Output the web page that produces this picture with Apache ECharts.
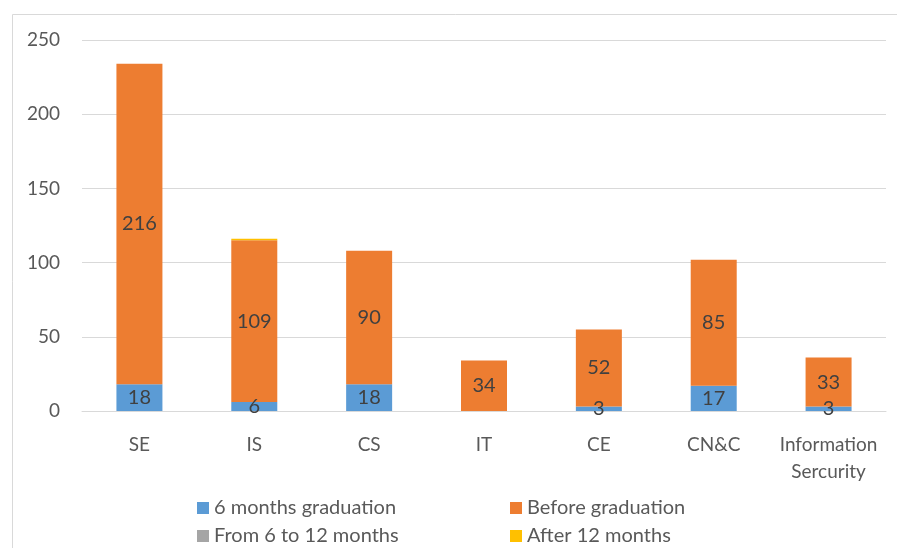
<!DOCTYPE html>
<html>
<head>
<meta charset="utf-8">
<script src="https://cdn.jsdelivr.net/npm/echarts@6/dist/echarts.min.js"></script>
<style>html,body{margin:0;padding:0;background:#fff}#main{width:897px;height:548px}</style>
</head>
<body>
<div id="main"></div>
<script>
var categories = ['SE', 'IS', 'CS', 'IT', 'CE', 'CN&C', 'Information\nSercurity'];
var sixMonths = [18, 6, 18, 0, 3, 17, 3];
var beforeGrad = [216, 109, 90, 34, 52, 85, 33];
var sixToTwelve = [0, 0, 0, 0, 0, 0, 0];
var afterTwelve = [0, 1, 0, 0, 0, 0, 0];

var font = 'Lato';
var chart = echarts.init(document.getElementById('main'));

function labelled(name, data, color, showLabel) {
  return {
    name: name, type: 'bar', stack: 'total', data: data, barWidth: 46,
    itemStyle: { color: color },
    label: {
      show: showLabel, position: 'inside', color: '#404040', fontFamily: font, fontSize: 20,
      formatter: function (p) { return p.value ? p.value : ''; }
    }
  };
}

function legendItem(name, left, top) {
  return {
    left: left, top: top, itemWidth: 12, itemHeight: 12, icon: 'rect',
    textStyle: { color: '#595959', fontSize: 20, fontFamily: font },
    data: [name]
  };
}

chart.setOption({
  animation: false,
  textStyle: { fontFamily: font },
  graphic: [{
    type: 'rect', left: 10, top: 12, shape: { width: 900, height: 600 },
    style: { fill: 'none', stroke: '#d9d9d9', lineWidth: 1 }
  }],
  grid: { left: 82, right: 11, top: 40, bottom: 137 },
  xAxis: {
    type: 'category', data: categories,
    axisTick: { show: false },
    axisLine: { lineStyle: { color: '#d9d9d9', width: 1 } },
    axisLabel: { color: '#595959', fontSize: 19, margin: 20, lineHeight: 27, fontFamily: font, interval: 0 }
  },
  yAxis: {
    type: 'value', min: 0, max: 250, interval: 50,
    axisLine: { show: false }, axisTick: { show: false },
    splitLine: { lineStyle: { color: '#d9d9d9', width: 1 } },
    axisLabel: { color: '#595959', fontSize: 19, margin: 22, fontFamily: font }
  },
  legend: [
    legendItem('6 months graduation', 192, 493),
    legendItem('Before graduation', 505, 493),
    legendItem('From 6 to 12 months', 192, 521),
    legendItem('After 12 months', 505, 521)
  ],
  series: [
    labelled('6 months graduation', sixMonths, '#5b9bd5', true),
    labelled('Before graduation', beforeGrad, '#ed7d31', true),
    labelled('From 6 to 12 months', sixToTwelve, '#a5a5a5', false),
    labelled('After 12 months', afterTwelve, '#ffc000', false)
  ]
});
</script>
</body>
</html>
